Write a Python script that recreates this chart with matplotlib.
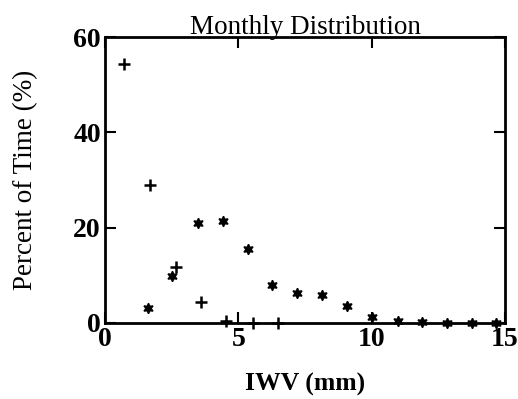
import matplotlib
matplotlib.use('Agg')
import matplotlib.pyplot as plt

# IWV bins (mm) and percent of time
iwv_plus = [0.7, 1.7, 2.65, 3.6, 4.55, 5.55, 6.5]
pct_plus = [54.3, 29.0, 11.8, 4.4, 0.4, 0.1, 0.1]

iwv_star = [1.6, 2.52, 3.47, 4.43, 5.35, 6.27, 7.21, 8.15, 9.09, 10.02,
            10.97, 11.89, 12.83, 13.75, 14.67]
pct_star = [3.1, 9.8, 21.0, 21.5, 15.5, 8.0, 6.3, 5.8, 3.6, 1.2,
            0.5, 0.2, 0.1, 0.0, 0.0]

plt.rcParams['font.family'] = ['Liberation Serif', 'DejaVu Serif']

fig = plt.figure(figsize=(5.18, 3.99), dpi=100)
ax = fig.add_axes([0.2027, 0.1905, 0.7723, 0.7165])

ax.plot(iwv_plus, pct_plus, linestyle='none', marker='+', color='black',
        markersize=8, markeredgewidth=1.8, clip_on=False)
ax.plot(iwv_star, pct_star, linestyle='none', marker=(6, 1, 0), color='black',
        markersize=7.5, markeredgewidth=1.0, clip_on=False)

ax.set_xlim(0, 15)
ax.set_ylim(0, 60)
ax.set_xticks([0, 5, 10, 15])
ax.set_yticks([0, 20, 40, 60])

for s in ax.spines.values():
    s.set_linewidth(2)
ax.tick_params(direction='in', length=8, width=1.5, top=True, right=True,
               labelsize=20, pad=3)
for lab in ax.get_xticklabels() + ax.get_yticklabels():
    lab.set_fontweight('bold')

ax.set_title('Monthly Distribution', fontsize=19.5, pad=2)
ax.set_xlabel('IWV (mm)', fontsize=18.5, fontweight='bold', labelpad=15)
ax.set_ylabel('Percent of Time (%)', fontsize=19.5, labelpad=25)

fig.savefig('out.png', dpi=100)
